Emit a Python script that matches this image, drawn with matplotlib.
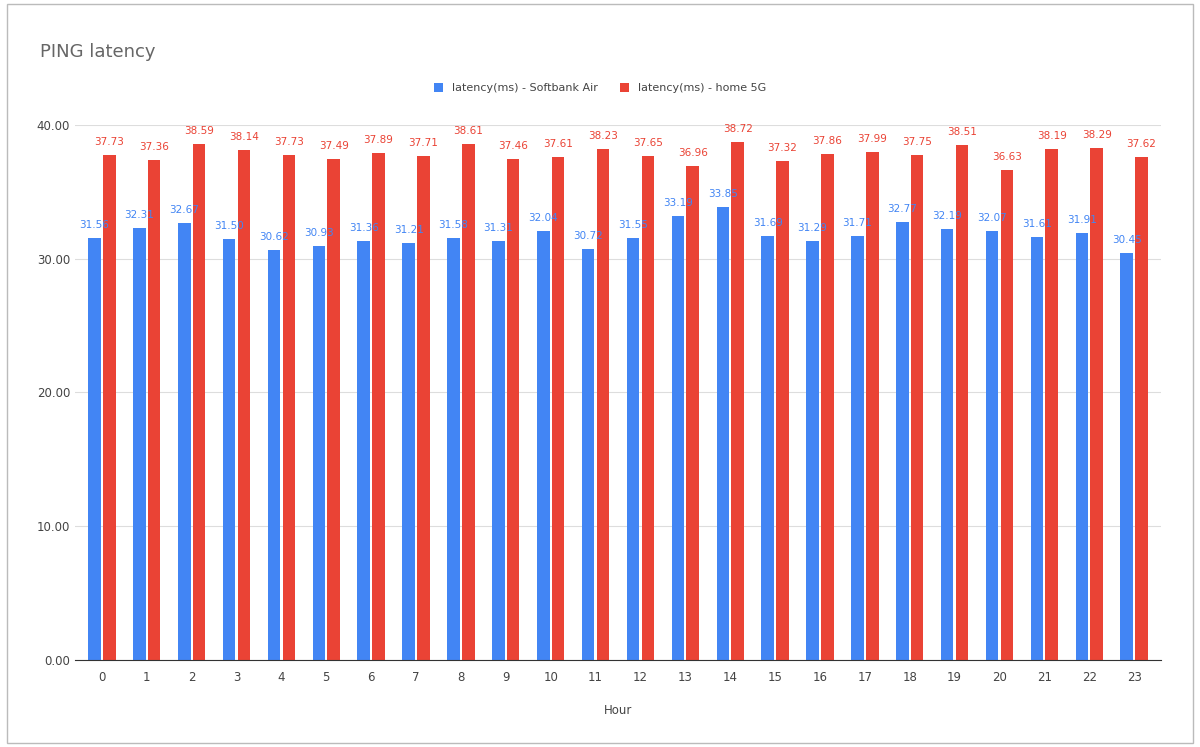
import matplotlib
matplotlib.use("Agg")
import matplotlib.pyplot as plt
import numpy as np

hours = [str(h) for h in range(24)]
softbank = [31.56,32.31,32.67,31.50,30.62,30.93,31.36,31.21,31.58,31.31,32.04,30.72,31.55,33.19,33.85,31.69,31.29,31.71,32.77,32.19,32.07,31.61,31.91,30.45]
home5g = [37.73,37.36,38.59,38.14,37.73,37.49,37.89,37.71,38.61,37.46,37.61,38.23,37.65,36.96,38.72,37.32,37.86,37.99,37.75,38.51,36.63,38.19,38.29,37.62]

blue = "#4285F4"; red = "#EA4335"
fig = plt.figure(figsize=(12, 7.47), dpi=100)
fig.patch.set_facecolor("white")
fig.add_artist(plt.Rectangle((0.006, 0.006), 0.988, 0.988, transform=fig.transFigure,
                             fill=False, edgecolor="#bbbbbb", lw=1))
ax = fig.add_axes([0.0625, 0.1165, 0.905, 0.7162])
x = np.arange(len(hours))
w = 0.28
off = 0.165
b1 = ax.bar(x - off, softbank, w, color=blue, label="latency(ms) - Softbank Air")
b2 = ax.bar(x + off, home5g, w, color=red, label="latency(ms) - home 5G")
for xi, v in zip(x, softbank):
    ax.text(xi - off, v + 0.6, f"{v:.2f}", ha="center", va="bottom", fontsize=7.5, color=blue)
for xi, v in zip(x, home5g):
    ax.text(xi + off, v + 0.6, f"{v:.2f}", ha="center", va="bottom", fontsize=7.5, color=red)
ax.set_ylim(0, 40)
ax.set_xlim(-0.6, 23.6)
ax.set_yticks([0, 10, 20, 30, 40])
ax.set_yticklabels([f"{t:.2f}" for t in [0, 10, 20, 30, 40]])
ax.set_xticks(x)
ax.set_xticklabels(hours)
ax.tick_params(axis="both", length=0, labelsize=8.5, colors="#444444")
ax.tick_params(axis="x", pad=8)
ax.grid(axis="y", color="#dddddd", lw=0.8)
ax.set_axisbelow(True)
for s in ["top", "right", "left"]:
    ax.spines[s].set_visible(False)
ax.spines["bottom"].set_color("#333333")
ax.set_xlabel("Hour", fontsize=8.5, color="#444444", labelpad=14)
fig.text(0.033, 0.93, "PING latency", fontsize=13, color="#666666", va="center")
leg = fig.legend(handles=[b1, b2], loc="center", bbox_to_anchor=(0.5, 0.882), ncol=2,
                 frameon=False, fontsize=8, handlelength=0.8, handleheight=0.8, columnspacing=2)
for t in leg.get_texts():
    t.set_color("#444444")
fig.savefig("out.png", dpi=100)
